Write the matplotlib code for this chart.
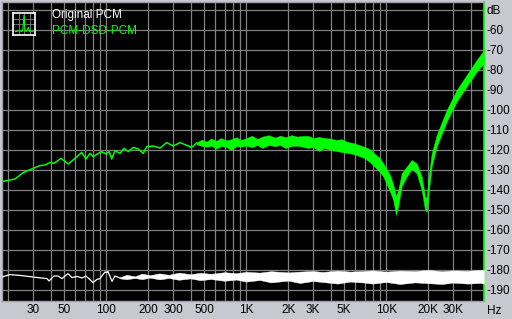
import numpy as np
from matplotlib import pyplot as plt
from matplotlib.ticker import FixedLocator, NullFormatter

# ---- data ----
# green (PCM-DSD-PCM), low frequency part drawn as a single line
green_line_hz = [17.9, 22.3, 25.5, 29.3, 33.6, 36.5, 39.6, 42.3, 47.5, 53.5, 59.8,
                 66.7, 71.6, 76.5, 80.7, 86.2, 92.7, 99.5, 105.1, 109.3, 115.4,
                 125.3, 133.8, 143.6, 155.9, 169.3, 183.8, 194.3, 216.6, 241.7,
                 270, 301, 336, 370, 407, 442]
green_line_db = [-135.8, -134.5, -131.3, -129.5, -127.8, -127.5, -126.2, -126.7,
                 -124.2, -127.0, -124.2, -121.2, -124.5, -121.7, -123.3, -122.0,
                 -120.8, -122.0, -120.8, -124.5, -120.3, -121.7, -119.2, -120.8,
                 -118.7, -119.5, -121.7, -118.3, -118.0, -119.0, -116.3, -118.0,
                 -116.3, -117.5, -118.7, -116.5]

# green, higher frequencies: noisy band (upper / lower edge)
green_band_hz = [442, 480, 520, 560, 610, 660, 720, 780, 850, 920, 1000, 1100, 1200,
                 1300, 1450, 1600, 1750, 1900, 2100, 2300, 2500, 2750, 3000, 3300,
                 3600, 4000, 4400, 4800, 5300, 5800, 6400, 7000, 7600, 8300, 9000,
                 9520, 10630, 11220, 11730, 12180, 12880, 13990, 15180, 16490,
                 17900, 18900, 19440, 19950, 21100, 22900, 27000, 31800, 37500,
                 44200, 49900]
green_band_hi = [-116.2, -114.8, -115.8, -114.3, -115.4, -114.0, -115.2, -114.6,
                 -113.6, -115.0, -114.0, -112.9, -114.5, -113.3, -112.6, -113.8,
                 -112.8, -113.6, -112.6, -113.3, -113.0, -112.9, -114.0, -113.5,
                 -114.0, -114.3, -115.0, -114.6, -116.0, -116.5, -117.5, -118.5,
                 -119.5, -122.0, -124.0, -126.7, -132.5, -137.5, -143.0, -140.0,
                 -131.7, -128.3, -125.0, -126.7, -133.3, -143.0, -144.0, -135.0,
                 -121.7, -112.5, -100.0, -90.0, -82.5, -75.0, -70.0]
green_band_lo = [-117.2, -118.0, -118.4, -117.8, -119.4, -118.0, -118.5, -120.0,
                 -118.0, -118.3, -117.8, -118.6, -117.5, -119.0, -117.5, -118.1,
                 -117.5, -119.0, -118.0, -117.8, -118.3, -119.0, -118.5, -120.5,
                 -119.0, -120.0, -120.5, -121.0, -121.5, -122.0, -123.0, -124.0,
                 -126.0, -128.5, -131.0, -133.3, -140.8, -145.0, -152.5, -148.0,
                 -138.0, -133.3, -129.5, -131.7, -140.0, -150.0, -151.0, -143.0,
                 -128.3, -118.3, -105.8, -95.8, -88.3, -80.8, -76.7]

# white (Original PCM), low frequency line
white_line_hz = [18.0, 20.5, 24.2, 29.95, 37.7, 39.0, 42.3, 45.2, 48.3, 53.2, 56.9,
                 61.8, 67.1, 71.6, 75.2, 80.4, 85.8, 90.2, 94.7, 97.9, 101, 102.8,
                 109.9, 115.4, 125.3]
white_line_db = [-183.5, -182.3, -182.7, -183.5, -184.3, -185.5, -183.0, -183.0,
                 -184.3, -181.8, -183.8, -183.2, -184.0, -183.0, -184.3, -186.3,
                 -184.7, -184.3, -182.3, -181.0, -181.3, -180.7, -185.7, -183.0,
                 -184.0]

# white, noisy band
white_band_hz = [125.3, 140, 160, 180, 205, 240, 280, 330, 400, 469, 560, 700, 850,
                 1000, 1250, 1500, 2000, 2418, 3000, 3500, 4500, 5505, 7000, 8000,
                 10000, 12500, 16000, 20000, 25000, 30000, 38000, 46700, 49900]
white_band_hi = [-183.6, -182.4, -183.2, -181.8, -182.6, -181.7, -182.4, -181.3,
                 -182.1, -181.4, -181.9, -181.1, -181.6, -180.9, -181.3, -180.6,
                 -181.2, -180.8, -180.5, -181.0, -180.3, -180.8, -180.5, -180.2,
                 -180.8, -180.3, -180.5, -180.0, -180.6, -180.2, -180.4, -180.0, -180.0]
white_band_lo = [-184.2, -184.6, -184.0, -184.6, -183.8, -184.7, -184.0, -184.9,
                 -184.2, -185.1, -184.5, -185.4, -184.8, -185.8, -185.0, -186.2,
                 -185.3, -186.5, -185.5, -186.0, -186.8, -185.8, -186.3, -186.8,
                 -186.0, -187.0, -186.2, -186.6, -187.0, -186.3, -186.8, -186.5, -186.7]

x_tick_hz = [30, 50, 100, 200, 300, 500, 1000, 2000, 3000, 5000, 10000, 20000, 30000]
x_tick_labels = ['30', '50', '100', '200', '300', '500', '1K', '2K', '3K', '5K',
                 '10K', '20K', '30K']
x_grid_hz = [20, 30, 40, 50, 60, 70, 80, 90,
             100, 200, 300, 400, 500, 600, 700, 800, 900,
             1000, 2000, 3000, 4000, 5000, 6000, 7000, 8000, 9000,
             10000, 20000, 30000, 40000]
y_ticks = list(range(-50, -200, -10))
y_tick_labels = ['dB'] + [str(v) for v in y_ticks[1:]]

# little icon next to the legend
icon_x = [0.1, 0.3, 0.4, 0.45, 0.5, 0.55, 0.6, 0.7, 0.75, 0.8, 0.9]
icon_y = [0.15, 0.2, 0.15, 0.3, 0.9, 0.2, 0.15, 0.35, 0.15, 0.2, 0.15]

BG = '#c8c8d0'
GREEN = '#00ff00'
GRID = '#808080'

plt.rcParams['font.family'] = ['Liberation Sans', 'DejaVu Sans']

fig = plt.figure(figsize=(5.12, 3.19), dpi=100)
fig.patch.set_facecolor(BG)
W, H = 512, 319
ax = fig.add_axes([2 / W, 18 / H, 482 / W, 299 / H])
ax.set_facecolor('black')
ax.set_xscale('log')
ax.set_xlim(18, 49900)
ax.set_ylim(-195.5, -46)

# grid
for f in x_grid_hz:
    ax.axvline(f, color=GRID, lw=0.9, zorder=1)
for v in y_ticks:
    ax.axhline(v, color=GRID, lw=0.9, zorder=1)

# traces
ax.plot(white_line_hz, white_line_db, color='white', lw=0.9, zorder=3)
ax.fill_between(white_band_hz, white_band_lo, white_band_hi, color='white',
                lw=0.3, edgecolor='white', zorder=3)
ax.plot(green_line_hz, green_line_db, color=GREEN, lw=1.1, zorder=4)
ax.fill_between(green_band_hz, green_band_lo, green_band_hi, color=GREEN,
                lw=0.3, edgecolor=GREEN, zorder=4)

# ticks / labels
ax.xaxis.set_major_locator(FixedLocator(x_tick_hz))
ax.xaxis.set_minor_locator(FixedLocator([]))
ax.xaxis.set_minor_formatter(NullFormatter())
ax.set_xticks(x_tick_hz)
ax.set_xticklabels(x_tick_labels)
ax.yaxis.tick_right()
ax.set_yticks(y_ticks)
ax.set_yticklabels(y_tick_labels)
ax.tick_params(axis='both', length=0, labelsize=8.5, colors='black')
ax.tick_params(axis='x', pad=2)
ax.tick_params(axis='y', pad=2)
for lab in ax.get_yticklabels():
    lab.set_horizontalalignment('left')

for side in ['top', 'left', 'bottom']:
    ax.spines[side].set_color('#a0a0a8')
    ax.spines[side].set_linewidth(1.0)
ax.spines['right'].set_color(GREEN)
ax.spines['right'].set_linewidth(1.2)

fig.text(487 / W, 1 - 311 / H, 'Hz', fontsize=8.5, va='center', ha='left')

# legend
fig.text(52 / W, 1 - 15 / H, 'Original PCM', color='white', fontsize=8.5,
         va='center', ha='left')
fig.text(52 / W, 1 - 31 / H, 'PCM-DSD-PCM', color=GREEN, fontsize=8.5,
         va='center', ha='left')

icon = fig.add_axes([13 / W, 1 - 35 / H, 22 / W, 22 / H])
icon.set_facecolor('black')
icon.set_xlim(0, 1)
icon.set_ylim(0, 1)
for g in [0.25, 0.5, 0.75]:
    icon.axvline(g, color=GRID, lw=0.6)
    icon.axhline(g, color=GRID, lw=0.6)
icon.plot(icon_x, icon_y, color=GREEN, lw=0.8)
icon.set_xticks([])
icon.set_yticks([])
for s in icon.spines.values():
    s.set_color('white')
    s.set_linewidth(1.2)

fig.savefig('out.png', dpi=100, facecolor=BG)
